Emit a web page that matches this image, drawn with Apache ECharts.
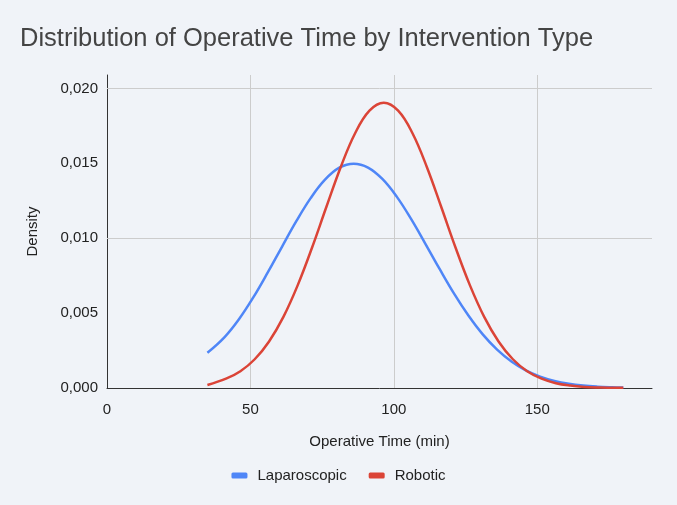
<!DOCTYPE html>
<html>
<head>
<meta charset="utf-8">
<script src="https://cdn.jsdelivr.net/npm/echarts@6/dist/echarts.min.js"></script>
<style>
  html, body { margin: 0; padding: 0; background: #f0f3f8; }
  #chart { width: 677px; height: 505px; }
</style>
</head>
<body>
<div id="chart"></div>
<script>
// operative time (min) where each density curve was read, one point on each peak
var lapTimes = [35, 41, 46, 51, 56, 61, 66, 71, 76, 81, 86, 91, 96, 101, 106, 111, 116,
                121, 126, 131, 136, 141, 146, 151, 156, 161, 166, 171, 176, 180];
var laparoscopic = [0.00235, 0.00340, 0.00459, 0.00605, 0.00770, 0.00943, 0.01114, 0.01268,
                    0.01391, 0.01471, 0.01498, 0.01472, 0.01396, 0.01278, 0.01129, 0.00963,
                    0.00793, 0.00630, 0.00484, 0.00358, 0.00256, 0.00177, 0.00118, 0.00076,
                    0.00047, 0.00028, 0.00016, 0.00009, 0.00005, 0.00003];

var robTimes = [35, 41.5, 46.5, 51.5, 56.5, 61.5, 66.5, 71.5, 76.5, 81.5, 86.5, 91.5, 96.5,
                101.5, 106.5, 111.5, 116.5, 121.5, 126.5, 131.5, 136.5, 141.5, 146.5, 151.5,
                156.5, 161.5, 166.5, 171.5, 176.5, 180];
var robotic = [0.00020, 0.00062, 0.00112, 0.00192, 0.00311, 0.00475, 0.00687, 0.00938,
               0.01210, 0.01476, 0.01701, 0.01852, 0.01905, 0.01852, 0.01701, 0.01476,
               0.01210, 0.00938, 0.00687, 0.00475, 0.00311, 0.00192, 0.00112, 0.00062,
               0.00032, 0.00016, 0.00007, 0.00003, 0.00001, 0.00001];

var xGrid = [50, 100, 150];
var yGrid = [0.005, 0.010, 0.015, 0.020];

function pairs(xs, ys) {
  return xs.map(function (t, i) { return [t, ys[i]]; });
}

var chart = echarts.init(document.getElementById('chart'));

var gridLines = xGrid.map(function (v) { return { xAxis: v }; })
  .concat(yGrid.map(function (v) { return { yAxis: v }; }));

var option = {
  backgroundColor: '#f0f3f8',
  textStyle: { fontFamily: 'Liberation Sans, Arial, sans-serif' },
  title: {
    text: 'Distribution of Operative Time by Intervention Type',
    left: 15,
    top: 21,
    textStyle: { fontSize: 25.5, fontWeight: 'normal', color: '#444' }
  },
  legend: {
    bottom: 17,
    left: 'center',
    itemWidth: 16,
    itemHeight: 6,
    itemGap: 22,
    icon: 'roundRect',
    textStyle: { fontSize: 15, color: '#222', padding: [0, 0, 0, 5] },
    data: ['Laparoscopic', 'Robotic']
  },
  grid: { left: 107, right: 25, top: 75, bottom: 117 },
  xAxis: {
    type: 'value',
    min: 0,
    max: 190,
    interval: 50,
    name: 'Operative Time (min)',
    nameLocation: 'middle',
    nameGap: 46,
    nameTextStyle: { fontSize: 15, color: '#222' },
    axisLine: { show: true, lineStyle: { color: '#333', width: 1 } },
    axisTick: { show: false },
    splitLine: { show: false },
    axisLabel: { fontSize: 15, color: '#222', margin: 14, showMaxLabel: false }
  },
  yAxis: {
    type: 'value',
    min: 0,
    max: 0.0209,
    interval: 0.005,
    name: 'Density',
    nameLocation: 'middle',
    nameGap: 67,
    nameTextStyle: { fontSize: 15, color: '#222' },
    axisLine: { show: true, lineStyle: { color: '#333', width: 1 } },
    axisTick: { show: false },
    splitLine: { show: false },
    axisLabel: {
      fontSize: 15, color: '#222', margin: 9, showMaxLabel: false,
      formatter: function (v) { return v.toFixed(3).replace('.', ','); }
    }
  },
  series: [
    {
      name: 'Laparoscopic',
      type: 'line',
      data: pairs(lapTimes, laparoscopic),
      smooth: 0.4,
      showSymbol: false,
      color: '#4f86f7',
      lineStyle: { width: 2.5 },
      z: 3,
      markLine: {
        silent: true,
        symbol: 'none',
        label: { show: false },
        lineStyle: { color: '#cccccc', type: 'solid', width: 1 },
        data: gridLines,
        z: 1
      }
    },
    {
      name: 'Robotic',
      type: 'line',
      data: pairs(robTimes, robotic),
      smooth: 0.4,
      showSymbol: false,
      color: '#db4437',
      lineStyle: { width: 2.5 },
      z: 4
    }
  ]
};

chart.setOption(option);
</script>
</body>
</html>
